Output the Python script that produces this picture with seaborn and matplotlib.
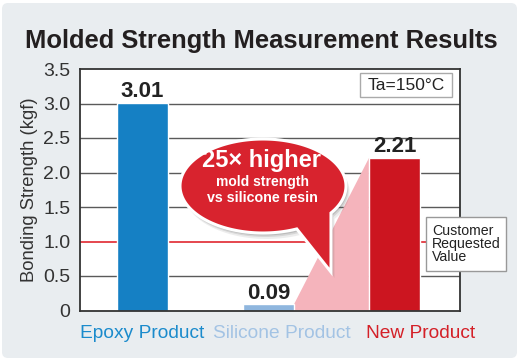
import matplotlib
matplotlib.use("Agg")
import matplotlib.pyplot as plt
import matplotlib.patches as mpatches
import numpy as np
import pandas as pd
import seaborn as sns

products = ["Epoxy Product", "Silicone Product", "New Product"]
strength = [3.01, 0.09, 2.21]
valueLabels = ["3.01", "0.09", "2.21"]
yTicks = [0, 0.5, 1.0, 1.5, 2.0, 2.5, 3.0, 3.5]
yTickLabels = ["0", "0.5", "1.0", "1.5", "2.0", "2.5", "3.0", "3.5"]
requestedValue = 1.0

barColours = ["#1580c4", "#8fb6de", "#cc1520"]
labelColours = ["#1b8bcc", "#a3c3e4", "#d42028"]
panelColour = "#e9edf0"
barWidth = 0.405

sns.set_theme(style="white")
plt.rcParams['font.family'] = ['Liberation Sans', 'DejaVu Sans']

df = pd.DataFrame({"product": products, "strength": strength})

fig = plt.figure(figsize=(5.22, 3.63), dpi=100)
fig.patch.set_facecolor("white")

# background panel
bg = fig.add_axes([0, 0, 1, 1])
bg.set_xlim(0, 522)
bg.set_ylim(363, 0)
bg.axis("off")
bg.add_patch(mpatches.FancyBboxPatch((2, 3), 515, 355, boxstyle="round,pad=0,rounding_size=6",
                                     facecolor=panelColour, edgecolor="none"))

ax = fig.add_axes([80 / 522, 1 - 310.5 / 363, 380 / 522, (310.5 - 69) / 363])
ax.set_facecolor("white")

for g in [0.5, 1.5, 2.0, 2.5, 3.0]:
    ax.axhline(g, color="#5a5a5a", linewidth=1.0, zorder=0)
ax.axhline(requestedValue, color="#e02830", linewidth=1.2, zorder=0)

# pink wedge between silicone and new product
xs = [1 + barWidth / 2, 2 - barWidth / 2, 2 - barWidth / 2, 1 + barWidth / 2]
ys = [strength[1], strength[2], 0, 0]
ax.fill(xs, ys, color="#f5b4bc", edgecolor="none", zorder=1)

sns.barplot(data=df, x="product", y="strength", hue="product", palette=barColours,
            width=barWidth, legend=False, ax=ax, zorder=2, saturation=1)

for i, (v, lab) in enumerate(zip(strength, valueLabels)):
    ax.text(i, v + 0.08, lab, ha="center", va="baseline", fontsize=16,
            fontweight="bold", color="#222222", zorder=5)

ax.set_xlim(-0.496, 2.52)
ax.set_ylim(0, 3.5)
ax.set_yticks(yTicks)
ax.set_yticklabels(yTickLabels, fontsize=14, color="#333333")
ax.tick_params(axis="y", length=0, pad=7)
ax.set_xticks([])
ax.set_xlabel("")
ax.set_ylabel("Bonding Strength (kgf)", fontsize=13.3, color="#333333", labelpad=4)
for s in ax.spines.values():
    s.set_color("#333333")
    s.set_linewidth(1.3)

labelShift = [0, 0.107, 0.206]
for i, (name, c) in enumerate(zip(products, labelColours)):
    ax.text(i + labelShift[i], -0.33, name, ha="center", va="center", fontsize=13.8,
            color=c, clip_on=False)

# overlay for annotations
ov = fig.add_axes([0, 0, 1, 1])
ov.set_xlim(0, 522)
ov.set_ylim(363, 0)
ov.axis("off")
ov.patch.set_alpha(0)

ov.text(261, 41, "Molded Strength Measurement Results", ha="center", va="center",
        fontsize=18.4, fontweight="bold", color="#231f20")

ov.add_patch(mpatches.Rectangle((360, 73), 92, 24, facecolor="white", edgecolor="#aaaaaa", linewidth=1))
ov.text(406, 85.5, "Ta=150°C", ha="center", va="center", fontsize=12.5, color="#222222")

ov.add_patch(mpatches.Rectangle((426, 217), 80, 54, facecolor="white", edgecolor="#999999", linewidth=1))
ov.text(432, 244, "Customer\nRequested\nValue", ha="left", va="center", fontsize=10.2,
        color="#222222", linespacing=0.95)

# speech bubble
cx, cy, a, b = 263, 186, 83, 47
t = np.linspace(np.deg2rad(66), np.deg2rad(35 + 360), 200)
bx = list(cx + a * np.cos(t)) + [331]
by = list(cy + b * np.sin(t)) + [272]
for off, al in [(6, 0.10), (4, 0.15), (2.5, 0.2)]:
    ov.add_patch(mpatches.Polygon(np.column_stack([np.array(bx) + off * 0.6, np.array(by) + off]),
                                  closed=True, facecolor="#555555", alpha=al, edgecolor="none"))
ov.add_patch(mpatches.Polygon(np.column_stack([bx, by]), closed=True, facecolor="#d8232e",
                              edgecolor="white", linewidth=2.2))
ov.text(262, 160, "25× higher", ha="center", va="center", fontsize=17, fontweight="bold", color="white")
ov.text(262, 182, "mold strength", ha="center", va="center", fontsize=10, fontweight="bold", color="white")
ov.text(262, 198, "vs silicone resin", ha="center", va="center", fontsize=10.3, fontweight="bold", color="white")

fig.savefig("out.png", dpi=100)
